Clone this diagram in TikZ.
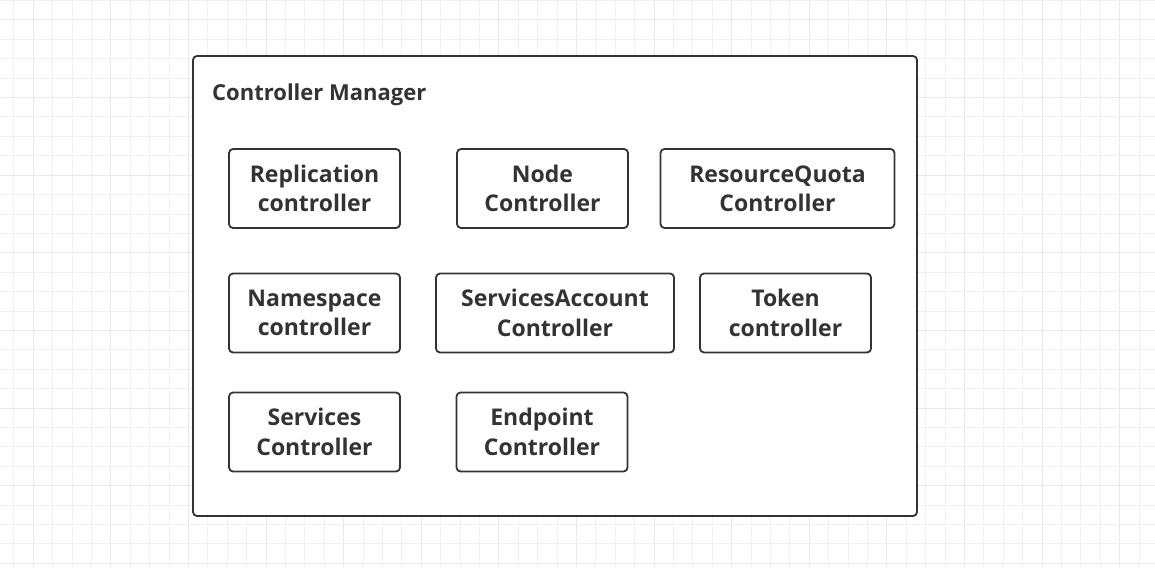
\documentclass[tikz,border=0pt]{standalone}
\usepackage{fontspec}
\setmainfont{Open Sans}
\definecolor{gridminor}{HTML}{F1F1F1}
\definecolor{gridmajor}{HTML}{E9E9E9}
\definecolor{ink}{HTML}{333333}
\begin{document}
\begin{tikzpicture}[x=1pt,y=-1pt,
  ctrl/.style={draw=ink, line width=1.8pt, rounded corners=4pt, fill=white, align=center,
    text=ink, inner sep=0pt, font=\fontsize{23}{29.3}\selectfont\bfseries},
  frame/.style={draw=ink, line width=1.8pt, rounded corners=4pt, fill=white},
  gmin/.style={draw=gridminor, line width=1pt},
  gmaj/.style={draw=gridmajor, line width=1pt}]
\useasboundingbox (0,0) rectangle (1155,567);
\fill[white] (0,0) rectangle (1155,567);
% grid
\foreach \k in {-1,...,58} {
  \pgfmathsetmacro{\xx}{33.3+19.4*\k}
  \pgfmathtruncatemacro{\mm}{mod(\k+4,4)}
  \ifnum\mm=0
    \draw[gmaj] (\xx,0) -- (\xx,567);
  \else
    \draw[gmin] (\xx,0) -- (\xx,567);
  \fi
}
\foreach \k in {-1,...,29} {
  \pgfmathsetmacro{\yy}{20+19.4*\k}
  \pgfmathtruncatemacro{\mm}{mod(\k+4,4)}
  \ifnum\mm=0
    \draw[gmaj] (0,\yy) -- (1155,\yy);
  \else
    \draw[gmin] (0,\yy) -- (1155,\yy);
  \fi
}
% outer frame
\draw[frame] (193,56) rectangle (917,516);
\node[anchor=base west, text=ink, inner sep=0pt, font=\fontsize{22}{26}\selectfont\bfseries] (title) at (212,100) {Controller Manager};
% controllers
\node[ctrl, minimum width=171pt, minimum height=79pt] (rep) at (314.5,188.5) {Replication\\controller};
\node[ctrl, minimum width=171pt, minimum height=79pt] (node) at (542.5,188.5) {Node\\Controller};
\node[ctrl, minimum width=234pt, minimum height=79pt] (rq) at (777.5,188.5) {ResourceQuota\\Controller};
\node[ctrl, minimum width=171pt, minimum height=79pt] (ns) at (314.5,313) {Namespace\\controller};
\node[ctrl, minimum width=238pt, minimum height=79pt] (sa) at (555,313) {ServicesAccount\\Controller};
\node[ctrl, minimum width=171pt, minimum height=79pt] (tok) at (785.5,313) {Token\\controller};
\node[ctrl, minimum width=171pt, minimum height=79pt] (svc) at (314.5,432) {Services\\Controller};
\node[ctrl, minimum width=171pt, minimum height=79pt] (ep) at (542,432) {Endpoint\\Controller};
\end{tikzpicture}
\end{document}
